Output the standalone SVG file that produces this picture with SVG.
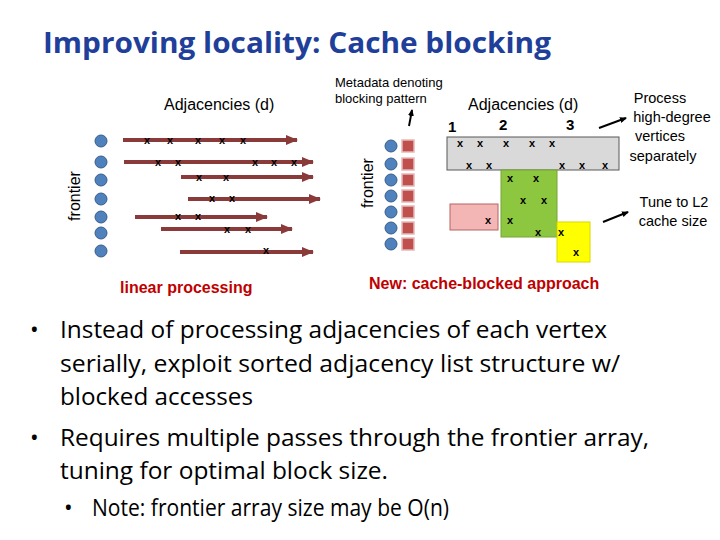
<svg xmlns="http://www.w3.org/2000/svg" width="720" height="540" viewBox="0 0 720 540">
<defs>
<marker id="ah" markerWidth="12" markerHeight="10" refX="11" refY="5" orient="auto" markerUnits="userSpaceOnUse"><path d="M0,0 L12,5 L0,10 z" fill="#8b3a3a"/></marker>
<marker id="bk" markerWidth="7" markerHeight="6" refX="6" refY="3" orient="auto" markerUnits="userSpaceOnUse"><path d="M0,0 L7,3 L0,6 z" fill="#000"/></marker>
<style>
.c{fill:#4f81bd;stroke:#385d8a;stroke-width:1}
.sq{fill:#c0504d;stroke:#e6b9b8;stroke-width:1.5}
.ar{stroke:#8b3a3a;stroke-width:4;fill:none;marker-end:url(#ah)}
.x{font-family:"Liberation Sans",sans-serif;font-size:11px;font-weight:bold;fill:#000;text-anchor:middle}
.lab{font-family:"Liberation Sans",sans-serif;fill:#000}
.body{font-family:"Open Sans","Liberation Sans",sans-serif;font-size:23px;fill:#000}
</style>
</defs>
<rect width="720" height="540" fill="#fff"/>
<text x="43" y="53" font-family="Open Sans,sans-serif" font-weight="bold" font-size="28" fill="#1f3f9a" textLength="508" lengthAdjust="spacingAndGlyphs">Improving locality: Cache blocking</text>

<g id="left">
<text class="lab" x="164" y="110" font-size="16">Adjacencies (d)</text>
<text class="lab" transform="translate(80,196) rotate(-90)" font-size="16" text-anchor="middle">frontier</text>
<g id="lcircles">
<circle class="c" cx="101" cy="141" r="6"/><circle class="c" cx="101" cy="162" r="6"/><circle class="c" cx="101" cy="180" r="6"/><circle class="c" cx="101" cy="199" r="6"/><circle class="c" cx="101" cy="217" r="6"/><circle class="c" cx="101" cy="233" r="6"/><circle class="c" cx="101" cy="251" r="6"/>
</g>
<g id="connectors">
<line class="ar" x1="123" y1="140" x2="297" y2="140"/>
<line class="ar" x1="124" y1="162" x2="313" y2="162"/>
<line class="ar" x1="181" y1="177" x2="313" y2="177"/>
<line class="ar" x1="188" y1="199" x2="320" y2="199"/>
<line class="ar" x1="135" y1="217" x2="267" y2="217"/>
<line class="ar" x1="161" y1="229" x2="292" y2="229"/>
<line class="ar" x1="180" y1="252" x2="313" y2="252"/>
</g>
<g id="lx">
<text class="x" x="147" y="144">x</text><text class="x" x="170" y="144">x</text><text class="x" x="198" y="144">x</text><text class="x" x="222" y="144">x</text><text class="x" x="243" y="144">x</text>
<text class="x" x="158" y="166">x</text><text class="x" x="178" y="166">x</text><text class="x" x="255" y="166">x</text><text class="x" x="274" y="166">x</text><text class="x" x="294" y="166">x</text>
<text class="x" x="199" y="181">x</text><text class="x" x="226" y="181">x</text>
<text class="x" x="212" y="202">x</text><text class="x" x="232" y="202">x</text>
<text class="x" x="178" y="220">x</text><text class="x" x="198" y="220">x</text>
<text class="x" x="227" y="233">x</text><text class="x" x="248" y="233">x</text>
<text class="x" x="266" y="254">x</text>
</g>
<text x="120" y="293" font-family="Liberation Sans,sans-serif" font-weight="bold" font-size="16" fill="#c00000">linear processing</text>
</g>

<g id="right">
<text class="lab" x="335" y="87" font-size="13">Metadata denoting</text>
<text class="lab" x="335" y="103" font-size="13">blocking pattern</text>
<line x1="409" y1="126" x2="412" y2="110" stroke="#000" stroke-width="2" marker-end="url(#bk)"/>
<text class="lab" x="468" y="110" font-size="16">Adjacencies (d)</text>
<text class="lab" x="448" y="132" font-size="15" font-weight="bold">1</text>
<text class="lab" x="499" y="130" font-size="15" font-weight="bold">2</text>
<text class="lab" x="566" y="130" font-size="15" font-weight="bold">3</text>
<text class="lab" transform="translate(373,183) rotate(-90)" font-size="16" text-anchor="middle">frontier</text>
<g id="rcircles">
<circle class="c" cx="391" cy="146" r="6"/><circle class="c" cx="391" cy="164" r="6"/><circle class="c" cx="391" cy="180" r="6"/><circle class="c" cx="391" cy="196" r="6"/><circle class="c" cx="391" cy="212" r="6"/><circle class="c" cx="391" cy="228" r="6"/><circle class="c" cx="391" cy="244" r="6"/>
</g>
<g id="squares">
<rect class="sq" x="402" y="140" width="12" height="12"/><rect class="sq" x="402" y="158" width="12" height="12"/><rect class="sq" x="402" y="174" width="12" height="12"/><rect class="sq" x="402" y="190" width="12" height="12"/><rect class="sq" x="402" y="206" width="12" height="12"/><rect class="sq" x="402" y="222" width="12" height="12"/><rect class="sq" x="402" y="238" width="12" height="12"/>
</g>
<rect id="gray" x="447" y="137" width="172" height="33" fill="#d9d9d9" stroke="#595959" stroke-width="1"/>
<rect id="green" x="501" y="170" width="56" height="67" fill="#8dc63f" stroke="#77a536" stroke-width="1"/>
<rect id="pink" x="450" y="204" width="48" height="26" fill="#f4b6b4" stroke="#b56565" stroke-width="1"/>
<rect id="yellow" x="557" y="222" width="33" height="40" fill="#ffff00" stroke="#d8d800" stroke-width="1"/>
<g id="rx">
<text class="x" x="460" y="147">x</text><text class="x" x="480" y="147">x</text><text class="x" x="506" y="147">x</text><text class="x" x="532" y="147">x</text><text class="x" x="552" y="147">x</text>
<text class="x" x="469" y="169">x</text><text class="x" x="489" y="169">x</text><text class="x" x="562" y="169">x</text><text class="x" x="582" y="169">x</text><text class="x" x="605" y="169">x</text>
<text class="x" x="510" y="182">x</text><text class="x" x="536" y="182">x</text><text class="x" x="523" y="204">x</text><text class="x" x="544" y="204">x</text>
<text class="x" x="488" y="224">x</text><text class="x" x="510" y="224">x</text><text class="x" x="538" y="236">x</text><text class="x" x="561" y="236">x</text><text class="x" x="576" y="256">x</text>
</g>
<line x1="599" y1="128" x2="626" y2="118" stroke="#000" stroke-width="2" marker-end="url(#bk)"/>
<line x1="603" y1="222" x2="628" y2="212" stroke="#000" stroke-width="2" marker-end="url(#bk)"/>
<g class="lab" font-size="14.5" text-anchor="middle">
<text x="660" y="103">Process</text><text x="672" y="122">high-degree</text><text x="660" y="141">vertices</text><text x="663" y="161">separately</text>
<text x="674" y="207">Tune to L2</text><text x="673" y="226">cache size</text>
</g>
<text x="369" y="289" font-family="Liberation Sans,sans-serif" font-weight="bold" font-size="16" fill="#c00000">New: cache-blocked approach</text>
</g>

<g id="bullets">
<text class="body" x="30" y="338">•</text>
<text class="body" x="60" y="338" textLength="547" lengthAdjust="spacingAndGlyphs">Instead of processing adjacencies of each vertex</text>
<text class="body" x="60" y="372" textLength="560" lengthAdjust="spacingAndGlyphs">serially, exploit sorted adjacency list structure w/</text>
<text class="body" x="60" y="405" textLength="193" lengthAdjust="spacingAndGlyphs">blocked accesses</text>
<text class="body" x="30" y="446">•</text>
<text class="body" x="60" y="446" textLength="589" lengthAdjust="spacingAndGlyphs">Requires multiple passes through the frontier array,</text>
<text class="body" x="60" y="479" textLength="328" lengthAdjust="spacingAndGlyphs">tuning for optimal block size.</text>
<text class="body" x="64" y="516" font-size="18">•</text>
<text class="body" x="92" y="516" font-size="18" textLength="357" lengthAdjust="spacingAndGlyphs">Note: frontier array size may be O(n)</text>
</g>
</svg>
